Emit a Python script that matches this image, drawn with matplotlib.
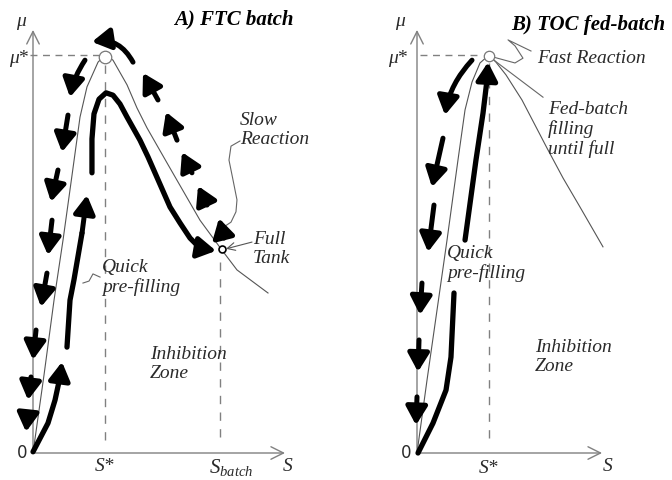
import matplotlib
matplotlib.use("Agg")
import matplotlib.pyplot as plt

plt.rcParams['font.family'] = ['Liberation Serif', 'DejaVu Serif']
plt.rcParams['mathtext.fontset'] = 'custom'
plt.rcParams['mathtext.it'] = 'Liberation Serif:italic'
plt.rcParams['mathtext.rm'] = 'Liberation Serif'

# S scaled so S* = 1, mu scaled so mu* = 1
# A) FTC batch: growth curve mu(S)
ftc_S = [0.0, 0.153, 0.292, 0.417, 0.542, 0.653, 0.75, 0.903, 1.0, 1.111,
         1.306, 1.444, 1.583, 1.861, 2.319, 2.611, 2.833, 3.264]
ftc_mu = [0.0, 0.196, 0.384, 0.535, 0.698, 0.844, 0.920, 0.982, 1.0, 0.987,
          0.925, 0.867, 0.817, 0.729, 0.585, 0.513, 0.460, 0.402]
S_batch = 2.6
mu_full = 0.512

# A) thick solid trajectory, three strokes
ftc_fill1_S = [0.0, 0.208, 0.306, 0.375, 0.403]
ftc_fill1_mu = [0.003, 0.075, 0.133, 0.191, 0.229]
ftc_fill2_S = [0.472, 0.514, 0.569, 0.681, 0.75]
ftc_fill2_mu = [0.266, 0.384, 0.435, 0.553, 0.648]
ftc_react_S = [0.819, 0.819, 0.847, 0.917, 1.014, 1.111, 1.208, 1.306, 1.486,
               1.597, 1.903, 2.042, 2.181, 2.319, 2.542]
ftc_react_mu = [0.704, 0.789, 0.852, 0.889, 0.905, 0.899, 0.877, 0.844, 0.786,
                0.744, 0.618, 0.578, 0.540, 0.515, 0.508]

# A) dashed return path: (S0, mu0, S1, mu1) per dash
ftc_up = [(2.653, 0.540, 2.583, 0.590),
          (2.417, 0.623, 2.292, 0.671),
          (2.208, 0.704, 2.069, 0.756),
          (2.0, 0.786, 1.847, 0.857),
          (1.736, 0.887, 1.528, 0.955)]
ftc_top = (1.389, 0.982, 0.819, 1.033)
ftc_down = [(0.722, 0.987, 0.514, 0.894),
            (0.486, 0.849, 0.403, 0.756),
            (0.347, 0.711, 0.25, 0.631),
            (0.264, 0.585, 0.208, 0.497),
            (0.194, 0.452, 0.111, 0.367),
            (0.042, 0.309, 0.0, 0.234),
            (-0.028, 0.191, -0.069, 0.133),
            (-0.069, 0.101, -0.097, 0.053)]

# leaders
slow_S = [2.875, 2.75, 2.722, 2.778, 2.833, 2.819, 2.75, 2.667]
slow_mu = [0.784, 0.771, 0.736, 0.686, 0.636, 0.606, 0.580, 0.570]
quickA_S = [0.931, 0.833, 0.778, 0.694]
quickA_mu = [0.442, 0.450, 0.432, 0.427]

# B) TOC fed-batch: growth curve mu(S)
toc_S = [0.0, 0.139, 0.278, 0.417, 0.569, 0.667, 0.764, 0.875, 1.0, 1.097,
         1.236, 1.458, 1.806, 2.028, 2.264, 2.583]
toc_mu = [0.0, 0.183, 0.359, 0.535, 0.736, 0.862, 0.932, 0.980, 1.0, 0.982,
          0.950, 0.887, 0.766, 0.691, 0.618, 0.518]

toc_fill1_S = [0.014, 0.222, 0.403, 0.472, 0.514]
toc_fill1_mu = [0.0, 0.075, 0.158, 0.241, 0.402]
toc_fill2_S = [0.667, 0.819, 0.917, 0.972, 0.986]
toc_fill2_mu = [0.535, 0.736, 0.854, 0.937, 0.982]

toc_top = (0.764, 0.987, 0.389, 0.849)
toc_down = [(0.361, 0.791, 0.208, 0.668),
            (0.236, 0.623, 0.153, 0.505),
            (0.069, 0.427, 0.042, 0.347),
            (0.028, 0.284, 0.014, 0.204),
            (0.0, 0.141, -0.014, 0.070)]

fast_S = [1.056, 1.361, 1.472, 1.361, 1.264, 1.583]
fast_mu = [0.995, 0.980, 0.992, 1.023, 1.038, 1.010]
fed_S = [1.069, 1.75]
fed_mu = [0.987, 0.894]

GREY = '#808080'
INK = '#2a2a2a'
HEAD = '-|>,head_length=0.55,head_width=0.32'


def arrow(ax, x0, y0, x1, y1, rad=0.0, lw=3.6):
    ax.annotate('', xy=(x1, y1), xytext=(x0, y0),
                arrowprops=dict(arrowstyle=HEAD, lw=lw, color='k',
                                mutation_scale=20, shrinkA=0, shrinkB=0,
                                connectionstyle='arc3,rad=%g' % rad),
                zorder=6)


def line(ax, xs, ys):
    ax.plot(xs, ys, color='k', lw=3.8, solid_capstyle='round',
            solid_joinstyle='round', zorder=5)


def stroke(ax, xs, ys):
    # thick line ending in an arrowhead
    line(ax, xs[:-1], ys[:-1])
    arrow(ax, xs[-2], ys[-2], xs[-1], ys[-1])


def frame(ax, x_end):
    ax.axis('off')
    chevron = dict(arrowstyle='->,head_length=0.5,head_width=0.25',
                   lw=1, color=GREY, mutation_scale=18, shrinkA=0, shrinkB=0)
    ax.annotate('', xy=(0, 1.063), xytext=(0, 0), arrowprops=chevron, zorder=1)
    ax.annotate('', xy=(x_end, 0), xytext=(0, 0), arrowprops=chevron, zorder=1)


def label(ax, x, y, s, **kw):
    opts = dict(fontsize=14, style='italic', ha='left', va='center',
                linespacing=1.15, color=INK)
    opts.update(kw)
    ax.text(x, y, s, **opts)


fig = plt.figure(figsize=(6.72, 4.8), dpi=100)
ylim = (-27 / 398, 453 / 398)

# ---- A) FTC batch ----
axA = fig.add_axes([0, 0, 0.5, 1])
axA.set_xlim(-33 / 72, 303 / 72)
axA.set_ylim(*ylim)
frame(axA, 3.5)

axA.plot([-0.04, 0.92], [1, 1], color=GREY, lw=1, ls=(0, (5, 4)), zorder=1)
axA.plot([1, 1], [0.975, 0.02], color=GREY, lw=1, ls=(0, (6, 6)), zorder=1)
axA.plot([S_batch, S_batch], [0.48, 0.02], color=GREY, lw=1, ls=(0, (6, 6)), zorder=1)

axA.plot(ftc_S, ftc_mu, color='#555555', lw=0.8, zorder=2)
axA.plot([1.0], [0.995], 'o', ms=9, mfc='white', mec='#777777', mew=0.9, zorder=3)

stroke(axA, ftc_fill1_S, ftc_fill1_mu)
stroke(axA, ftc_fill2_S, ftc_fill2_mu)
stroke(axA, ftc_react_S, ftc_react_mu)
axA.plot([S_batch + 0.02], [mu_full], 'o', ms=5, mfc='white', mec='k', mew=1.2, zorder=7)

for s0, m0, s1, m1 in ftc_up:
    arrow(axA, s0, m0, s1, m1)
arrow(axA, *ftc_top, rad=0.35)
for i, (s0, m0, s1, m1) in enumerate(ftc_down):
    arrow(axA, s0, m0, s1, m1, rad=0.1 if i == 0 else 0.0)

axA.plot(slow_S, slow_mu, color='#666666', lw=0.8, zorder=2)
axA.plot(quickA_S, quickA_mu, color='#666666', lw=0.8, zorder=2)
axA.annotate('', xy=(2.681, 0.513), xytext=(3.042, 0.530),
             arrowprops=dict(arrowstyle='->,head_length=0.4,head_width=0.2',
                             lw=0.8, color='#555555', mutation_scale=14,
                             shrinkA=0, shrinkB=0), zorder=7)

axA.text(2.79, 1.09, 'A) FTC batch', fontsize=15, fontweight='bold',
         style='italic', ha='center', va='center', color='k')
axA.text(-0.153, 1.078, r'$\mu$', fontsize=14, ha='center', va='center', color=INK)
axA.text(-0.19, 0.99, r'$\mu$*', fontsize=14, ha='center', va='center', color=INK)
axA.text(-0.15, 0.0, '0', fontsize=12, family='DejaVu Sans', ha='center', va='center', color=INK)
label(axA, 1.0, -0.035, 'S*', ha='center')
axA.text(2.75, -0.037, r'$S_{batch}$', fontsize=15, ha='center', va='center', color=INK)
label(axA, 3.54, -0.035, 'S', ha='center')
label(axA, 2.875, 0.812, 'Slow\nReaction')
label(axA, 3.056, 0.512, 'Full\nTank')
label(axA, 0.958, 0.441, 'Quick\npre-filling')
label(axA, 1.625, 0.224, 'Inhibition\nZone')

# ---- B) TOC fed-batch ----
axB = fig.add_axes([0.5, 0, 0.5, 1])
axB.set_xlim(-81 / 72, 255 / 72)
axB.set_ylim(*ylim)
frame(axB, 2.57)

axB.plot([0.04, 0.88], [1, 1], color=GREY, lw=1, ls=(0, (5, 4)), zorder=1)
axB.plot([1, 1], [0.98, 0.02], color=GREY, lw=1, ls=(0, (6, 6)), zorder=1)

axB.plot(toc_S, toc_mu, color='#555555', lw=0.8, zorder=2)
axB.plot([1.0], [0.997], 'o', ms=7.5, mfc='white', mec='#777777', mew=0.9, zorder=3)

line(axB, toc_fill1_S, toc_fill1_mu)
stroke(axB, toc_fill2_S, toc_fill2_mu)

arrow(axB, *toc_top, rad=0.15)
for s0, m0, s1, m1 in toc_down:
    arrow(axB, s0, m0, s1, m1)

axB.plot(fast_S, fast_mu, color='#666666', lw=0.8, zorder=2)
axB.plot(fed_S, fed_mu, color='#666666', lw=0.8, zorder=2)

axB.text(2.375, 1.075, 'B) TOC fed-batch', fontsize=15, fontweight='bold',
         style='italic', ha='center', va='center', color='k')
axB.text(-0.222, 1.078, r'$\mu$', fontsize=14, ha='center', va='center', color=INK)
axB.text(-0.264, 0.99, r'$\mu$*', fontsize=14, ha='center', va='center', color=INK)
axB.text(-0.153, 0.0, '0', fontsize=12, family='DejaVu Sans', ha='center', va='center', color=INK)
label(axB, 1.0, -0.038, 'S*', ha='center')
label(axB, 2.653, -0.035, 'S', ha='center')
label(axB, 1.667, 0.992, 'Fast Reaction')
label(axB, 1.819, 0.812, 'Fed-batch\nfilling\nuntil full')
label(axB, 0.417, 0.475, 'Quick\npre-filling')
label(axB, 1.639, 0.241, 'Inhibition\nZone')

fig.savefig('out.png', dpi=100, facecolor='white')
